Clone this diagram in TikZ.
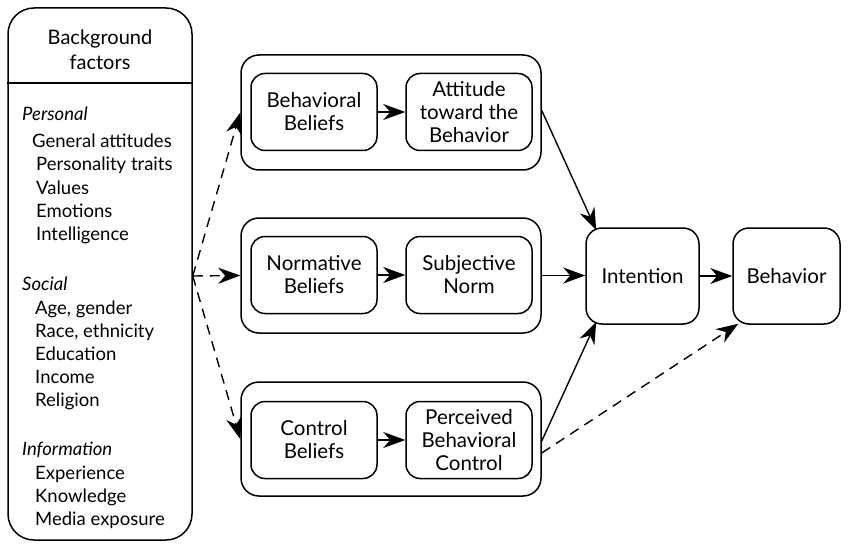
\documentclass[tikz,border=0pt]{standalone}
\usepackage{fontspec}
\setmainfont{Lato}
\usetikzlibrary{arrows.meta}
\begin{document}
\begin{tikzpicture}[x=1pt,y=-1pt,
  every node/.style={inner sep=0pt},
  txt/.style={font=\fontsize{18.5}{23}\selectfont},
  boxt/.style={draw, line width=1.5pt, rounded corners=14pt, align=center,
    font=\fontsize{20.5}{23}\selectfont},
  grp/.style={draw, line width=1.5pt, rounded corners=18pt},
  arr/.style={line width=1.4pt, -{Stealth[length=22pt,width=16pt,inset=7pt]}},
  darr/.style={arr, dash pattern=on 10pt off 7pt}]
\useasboundingbox (0,0) rectangle (848,548);
% background factors
\node[draw, line width=1.5pt, rounded corners=26pt, minimum width=184pt, minimum height=532pt] (bg) at (100,274) {};
\draw[line width=1.4pt] (bg.west |- 0,83) coordinate (dl) -- (bg.east |- 0,83) coordinate (dr);
\node[align=center, font=\fontsize{20}{25}\selectfont] (bgt) at (100,50) {Background\\factors};
\node[txt, anchor=base west, font=\fontsize{18.5}{23}\selectfont\itshape] (hp) at (22,121) {Personal};
\node[txt, anchor=base west] (p1) at (32,148) {General attitudes};
\node[txt, anchor=base west] (p2) at (36,171) {Personality traits};
\node[txt, anchor=base west] (p3) at (36,194) {Values};
\node[txt, anchor=base west] (p4) at (36,217) {Emotions};
\node[txt, anchor=base west] (p5) at (36,240) {Intelligence};
\node[txt, anchor=base west, font=\fontsize{18.5}{23}\selectfont\itshape] (hs) at (22,290) {Social};
\node[txt, anchor=base west] (s1) at (35,314) {Age, gender};
\node[txt, anchor=base west] (s2) at (35,337) {Race, ethnicity};
\node[txt, anchor=base west] (s3) at (35,360) {Education};
\node[txt, anchor=base west] (s4) at (35,383) {Income};
\node[txt, anchor=base west] (s5) at (35,406) {Religion};
\node[txt, anchor=base west, font=\fontsize{18.5}{23}\selectfont\itshape] (hi) at (22,455) {Information};
\node[txt, anchor=base west] (i1) at (35,479) {Experience};
\node[txt, anchor=base west] (i2) at (35,502) {Knowledge};
\node[txt, anchor=base west] (i3) at (35,525) {Media exposure};
% groups
\node[grp, minimum width=300pt, minimum height=115pt] (g1) at (391,112.5) {};
\node[grp, minimum width=300pt, minimum height=115pt] (g2) at (391,275.5) {};
\node[grp, minimum width=300pt, minimum height=114pt] (g3) at (391,439) {};
% inner boxes
\node[boxt, minimum width=126pt, minimum height=77pt] (bb) at (314,112) {Behavioral\\Beliefs};
\node[boxt, minimum width=126pt, minimum height=77pt] (at) at (469,112) {Attitude\\toward the\\Behavior};
\node[boxt, minimum width=126pt, minimum height=77pt] (nb) at (314,275) {Normative\\Beliefs};
\node[boxt, minimum width=126pt, minimum height=77pt] (sn) at (469,275) {Subjective\\Norm};
\node[boxt, minimum width=126pt, minimum height=77pt] (cb) at (314,440) {Control\\Beliefs};
\node[boxt, minimum width=126pt, minimum height=77pt] (pbc) at (469,440) {Perceived\\Behavioral\\Control};
\node[boxt, rounded corners=16pt, minimum width=113pt, minimum height=96pt] (int) at (642.5,276) {Intention};
\node[boxt, rounded corners=16pt, minimum width=107pt, minimum height=96pt] (beh) at (786.5,276) {Behavior};
% arrows
\draw[arr] (bb) -- (at);
\draw[arr] (nb) -- (sn);
\draw[arr] (cb) -- (pbc);
\draw[arr] (int) -- (beh);
\draw[arr] (g2.east) -- (g2.east -| int.west);
\draw[arr] ([yshift=2pt]g1.east) -- ([xshift=11pt,yshift=-3pt]int.north west);
\draw[arr] ([yshift=-2pt]g3.east) -- ([xshift=11pt,yshift=3pt]int.south west);
\draw[darr] ([yshift=-14pt]g3.east) -- ([xshift=6pt,yshift=1pt]beh.south west);
\coordinate (src) at ([yshift=-2pt]bg.east);
\draw[darr] (src) -- (g1.west);
\draw[darr] (src) -- (g2.west);
\draw[darr] (src) -- (g3.west);
\end{tikzpicture}
\end{document}
